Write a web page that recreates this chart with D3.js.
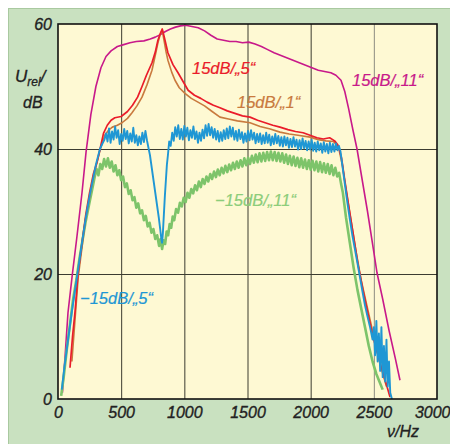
<!DOCTYPE html>
<html><head><meta charset="utf-8">
<script src="https://cdn.jsdelivr.net/npm/d3@7/dist/d3.min.js"></script>
<style>
html,body{margin:0;padding:0;background:#fff;}
svg text{font-family:"Liberation Sans",Arial,sans-serif;font-style:italic;}
</style></head>
<body><svg id="c" width="450" height="444"></svg>
<script>
const xTicks = [0,500,1000,1500,2000,2500,3000];
const yTicks = [0,20,40,60];
const xGrid = [500,1000,1500,2000,2500];
const yGrid = [20,40];

const magenta = [[35,1],[55,6.5],[79,13.8],[111,19.5],[150,26],[190,33],[222,39.5],[260,45.5],[300,50],[340,53],[380,54.8],[420,55.7],[470,56.4],[520,56.7],[570,57.0],[620,57.2],[680,57.3],[730,57.6],[770,57.9],[810,58.3],[850,58.8],[890,59.2],[930,59.5],[970,59.7],[1010,59.8],[1060,59.6],[1110,59.4],[1160,58.9],[1210,58.2],[1260,57.6],[1310,57.4],[1360,57.2],[1410,57.2],[1460,57.0],[1510,57.1],[1560,56.8],[1610,56.4],[1660,55.9],[1710,55.4],[1760,55.0],[1810,54.6],[1860,54.2],[1910,53.8],[1960,53.4],[2010,53.0],[2060,52.6],[2110,52.4],[2160,52.2],[2200,51.8],[2240,51.0],[2270,49.2],[2300,46.5],[2335,43],[2367,40],[2400,36],[2450,30],[2500,23.5],[2525,20.2],[2570,16],[2620,11],[2670,6.5],[2707,3]];

const red = [[95,5],[115,10],[135,14],[158,20],[190,25],[220,29.5],[250,33],[280,36],[310,38],[335,40.2],[360,42.5],[390,43.8],[420,44.6],[450,45],[500,45.2],[550,46],[590,47],[630,48.3],[665,50],[700,51.8],[744,53.8],[770,55.5],[791,57.4],[812,58.6],[825,59.2],[840,58],[870,55.4],[910,53.5],[950,52.2],[990,50.8],[1030,49.4],[1080,48.6],[1130,48.1],[1180,47.5],[1230,47],[1282,46.6],[1340,46.1],[1400,45.7],[1460,45.3],[1520,45.1],[1580,44.6],[1640,44.2],[1700,43.8],[1757,43.5],[1820,43.1],[1880,42.8],[1940,42.6],[1995,42.2],[2050,41.8],[2100,41.6],[2150,41.8],[2190,41.3],[2220,40.5],[2245,38.5],[2270,35],[2300,31],[2335,26.6],[2375,21.5],[2414,17.4],[2455,13.5],[2494,9.9],[2540,6.5],[2590,3],[2628,0.3]];

const orange = [[110,6],[160,19.5],[220,29],[280,35.5],[335,40],[370,42.2],[400,43],[430,43.5],[470,43.8],[507,44.2],[550,44.9],[586,45.8],[625,46.9],[665,48.3],[705,50.3],[744,52.6],[770,55],[791,57],[810,58.4],[825,59],[840,57.3],[855,55.6],[870,54.2],[900,52.3],[926,51],[960,49.8],[1005,48.9],[1055,48.1],[1108,47.5],[1160,46.9],[1220,46],[1282,45.1],[1350,44.8],[1420,44.5],[1520,44.2],[1600,43.6],[1680,43.2],[1757,42.7],[1830,42.4],[1900,42.2],[1995,41.9],[2060,41.5],[2120,41.3],[2180,41.2],[2220,40.3],[2250,37.5],[2280,33.5],[2320,28.5],[2360,23.5],[2400,19],[2450,14.5],[2500,10],[2550,5.5],[2600,2]];

const blue = [[30,1.5],[50,5],[79,9.4],[110,14],[150,19.5],[190,25],[220,29],[250,32.5],[270,34.5],[300,37.5],[332,40],[350,40.8],[368,41.5],
[380,42.5],[392,41.2],[404,43.3],[416,41.0],[428,42.8],[440,41.5],[452,43.6],[464,41.8],[476,43.0],[488,40.8],[500,42.4],[512,41.3],[524,43.2],[536,41.6],[548,42.9],[560,40.9],[572,42.5],[584,41.2],[596,43.4],[608,41.0],[620,42.2],[632,40.6],[644,42.0],[656,40.8],[668,42.6],[680,41.1],[692,42.9],[704,41.4],
[716,40.2],[728,39],[742,37],[756,35],[770,33],[784,31],[798,29],[810,27],[818,25.6],[824,25],[830,26.5],[838,29.5],[846,32.5],[854,35],[862,37.5],[870,39],[880,41.2],[892,40.5],[904,42.6],
[916,41.3],[928,43.5],[940,42.0],[952,43.8],[964,41.6],[976,43.2],[988,41.5],[1000,43.7],[1012,42.0],[1024,43.4],[1036,41.4],[1048,43.0],[1060,41.8],[1072,43.6],[1084,41.6],[1096,42.8],[1108,41.0],[1120,42.6],[1132,41.3],[1144,43.1],[1156,41.7],[1168,43.8],[1180,42.1],[1192,44.0],[1204,42.2],[1216,43.5],[1228,41.8],[1240,43.2],[1252,41.5],[1264,42.9],[1276,41.2],[1288,42.7],[1300,41.3],[1312,43.0],[1324,41.6],[1336,43.3],[1348,41.7],[1360,43.6],[1372,42.0],[1384,43.4],[1396,41.5],[1408,42.9],[1420,41.3],[1432,43.1],[1444,41.6],[1456,42.7],[1468,41.0],[1480,42.5],[1492,41.2],[1504,42.9],[1516,41.4],[1528,43.0],[1540,41.5],[1552,42.6],[1564,40.9],[1576,42.4],[1588,41.1],[1600,42.5],
[1612,40.8],[1624,42.2],[1636,40.9],[1648,42.6],[1660,41.0],[1672,42.3],[1684,40.6],[1696,42.0],[1708,40.8],[1720,42.4],[1732,40.9],[1744,42.1],[1756,40.5],[1768,41.9],[1780,40.4],[1792,42.0],[1804,40.6],[1816,41.8],[1828,40.2],[1840,41.6],[1852,40.3],[1864,41.9],[1876,40.4],[1888,41.5],[1900,39.9],[1912,41.4],[1924,40.0],[1936,41.7],[1948,40.1],[1960,41.3],[1972,39.8],[1984,41.2],[1996,39.9],[2008,41.5],[2020,39.7],[2032,41.0],[2044,39.6],[2056,41.2],[2068,39.8],[2080,40.9],[2092,39.4],[2104,41.1],[2116,39.6],[2128,40.8],[2140,39.3],[2152,41.0],[2164,39.5],[2176,40.8],[2188,39.6],[2200,40.9],[2212,39.8],[2224,40.5],[2236,39.6],
[2250,37.5],[2270,34.5],[2290,31.5],[2310,28.8],[2330,26.2],[2350,24],[2370,21.8],[2390,19.5],[2410,17.2],[2430,15],[2450,13.2],[2470,11.5],[2490,9.5],[2500,11.5],[2510,7],[2520,12.5],[2530,6],[2540,10.5],[2550,4.5],[2560,11.5],[2570,3.5],[2580,8.5],[2590,2.8],[2600,9.5],[2610,2],[2620,6],[2630,1],[2643,0]];

const green = [[25,0.5],[45,3.5],[70,8],[95,12],[120,16],[145,19],[170,22.5],[195,25.5],[220,28.5],[245,31],[270,33.5],[290,35.5],[305,36.8],[320,35.8],[335,37.6],[350,36.8],[365,38.4],[380,37.2],[395,38.5],[410,37.0],[425,38.0],[440,36.4],[455,37.4],[470,35.8],[485,36.6],[500,35.0],[515,35.6],[530,33.9],[545,34.5],[560,32.8],[575,33.4],[590,31.8],[605,32.3],[620,30.6],[635,31.3],[650,29.7],[665,30.2],[680,28.6],[695,29.3],[710,27.6],[725,28.2],[740,26.6],[755,27.2],[770,25.6],[785,26.2],[800,24.5],[812,25.6],[824,24.0],[836,25.4],[848,24.8],[860,26.8],[872,26.2],[884,28.0],[896,27.4],[908,29.2],[920,28.6],[935,30.4],[950,29.8],[965,31.4],[980,30.8],[995,32.2],[1010,31.5],[1025,33.0],[1040,32.2],[1055,33.6],[1070,32.9],[1085,34.2],[1100,33.4],[1115,34.8],[1130,33.9],[1145,35.2],[1160,34.4],[1175,35.6],[1190,34.8],[1205,36.0],[1220,35.2],[1235,36.4],[1250,35.5],[1265,36.7],[1280,35.8],[1295,37.0],[1310,36.1],[1325,37.3],[1340,36.3],[1355,37.5],[1370,36.6],[1385,37.8],[1400,36.8],[1415,38.0],[1430,37.0],[1445,38.2],[1460,37.2],[1475,38.5],[1490,37.4],[1505,38.6],[1520,37.6],[1535,38.9],[1550,37.8],[1565,39.1],[1580,37.9],[1595,39.3],[1610,38.0],[1625,39.4],[1640,38.1],[1655,39.5],[1670,38.2],[1685,39.6],[1700,38.2],[1715,39.5],[1730,38.1],[1745,39.4],[1760,38.0],[1775,39.3],[1790,37.8],[1805,39.1],[1820,37.6],[1835,38.9],[1850,37.4],[1865,38.8],[1880,37.3],[1895,38.6],[1910,37.1],[1925,38.5],[1940,37.0],[1955,38.3],[1970,36.8],[1985,38.2],[2000,36.7],[2015,38.1],[2030,36.6],[2045,38.0],[2060,36.4],[2075,37.9],[2090,36.3],[2105,37.7],[2120,36.2],[2135,37.6],[2150,36.0],[2165,37.4],[2180,35.8],[2195,37.0],[2210,35.6],[2225,36.2],[2240,34.5],[2255,33],[2280,29],[2310,25],[2340,21],[2370,17.5],[2400,14.5],[2430,11.5],[2460,8.5],[2490,6],[2520,4],[2548,2.6],[2570,1.5]];

const seriesNames = ["−15dB/„11“","−15dB/„5“","15dB/„1“","15dB/„5“","15dB/„11“"];

const svg = d3.select("#c");
const W = 450, H = 444;
const L = 58, T = 24, R = 437, B = 399;
const x = d3.scaleLinear().domain([0,3000]).range([L,R]);
const y = d3.scaleLinear().domain([0,60]).range([B,T]);

svg.append("rect").attr("x",0).attr("y",0).attr("width",W).attr("height",H).attr("fill","#ffffff");
svg.append("rect").attr("x",8.5).attr("y",8.5).attr("width",W).attr("height",H).attr("fill","#c9e1c0").attr("stroke","#a9c9a0").attr("stroke-width",1);
svg.append("rect").attr("x",L).attr("y",T).attr("width",R-L).attr("height",B-T).attr("fill","#fef9d3");

// grid
svg.append("g").attr("transform",`translate(0,${B})`)
  .call(d3.axisBottom(x).tickValues(xGrid).tickSize(-(B-T)).tickFormat(""))
  .call(g=>g.select(".domain").remove())
  .call(g=>g.selectAll("line").attr("stroke",d=>d===2500?"#8c8c80":"#3c3c30").attr("stroke-width",1));
svg.append("g").attr("transform",`translate(${L},0)`)
  .call(d3.axisLeft(y).tickValues(yGrid).tickSize(-(R-L)).tickFormat(""))
  .call(g=>g.select(".domain").remove())
  .call(g=>g.selectAll("line").attr("stroke","#3c3c30").attr("stroke-width",1));

const line = d3.line().x(d=>x(d[0])).y(d=>y(d[1]));
const defs = svg.append("defs");
defs.append("clipPath").attr("id","pc").append("rect").attr("x",L).attr("y",T-2).attr("width",R-L).attr("height",B-T+2);
const lg = svg.append("g").attr("clip-path","url(#pc)");
const drawSeries = [
  {d:magenta,c:"#c8198a",w:1.6},
  {d:green,c:"#7dc46a",w:2.6},
  {d:orange,c:"#c97a3e",w:1.6},
  {d:red,c:"#ea1c2a",w:1.7},
  {d:blue,c:"#1f97d4",w:1.9}
];
drawSeries.forEach(s=>{
  lg.append("path").attr("d",line(s.d)).attr("fill","none").attr("stroke",s.c)
    .attr("stroke-width",s.w).attr("stroke-linejoin","round");
});

// frame
svg.append("rect").attr("x",L).attr("y",T).attr("width",R-L).attr("height",B-T)
  .attr("fill","none").attr("stroke","#111").attr("stroke-width",1.6);

// axes labels
svg.append("g").attr("transform",`translate(0,${B})`)
  .call(d3.axisBottom(x).tickValues(xTicks).tickSize(0).tickPadding(8).tickFormat(d3.format("d")))
  .call(g=>g.select(".domain").remove())
  .call(g=>g.selectAll("text").attr("font-size",16).attr("fill","#222").attr("font-family",null)
    .attr("stroke","#222").attr("stroke-width",0.35)
    .attr("text-anchor",d=>d===3000?"end":"middle").attr("dx",d=>d===3000?"13":"0"));
svg.append("g").attr("transform",`translate(${L},0)`)
  .call(d3.axisLeft(y).tickValues(yTicks).tickSize(0).tickPadding(6).tickFormat(d3.format("d")))
  .call(g=>g.select(".domain").remove())
  .call(g=>g.selectAll("text").attr("font-size",16).attr("fill","#222").attr("font-family",null)
    .attr("stroke","#222").attr("stroke-width",0.35));

// y title
const yt = svg.append("text").attr("x",15).attr("y",82).attr("font-size",17).attr("fill","#222")
  .attr("stroke","#222").attr("stroke-width",0.3);
yt.append("tspan").text("U");
yt.append("tspan").attr("font-size",12).attr("dy",4).text("rel");
yt.append("tspan").attr("dy",-4).text("/");
svg.append("text").attr("x",23).attr("y",108).attr("font-size",16).attr("fill","#222")
  .attr("stroke","#222").attr("stroke-width",0.3).text("dB");
svg.append("text").attr("x",387).attr("y",437).attr("font-size",16).attr("fill","#222")
  .attr("stroke","#222").attr("stroke-width",0.3).text("ν/Hz");

// series labels
const labels = [
  {t:seriesNames[3],x:192,y:74,c:"#ea1c2a"},
  {t:seriesNames[2],x:237,y:108,c:"#c97a3e"},
  {t:seriesNames[4],x:352,y:86,c:"#c8198a"},
  {t:seriesNames[0],x:215,y:206,c:"#8ccd7a"},
  {t:seriesNames[1],x:80,y:304,c:"#1f97d4"}
];
labels.forEach(l=>{
  svg.append("text").attr("x",l.x).attr("y",l.y).attr("font-size",16.5).attr("fill",l.c)
    .attr("stroke",l.c).attr("stroke-width",0.2).text(l.t);
});
</script></body></html>
